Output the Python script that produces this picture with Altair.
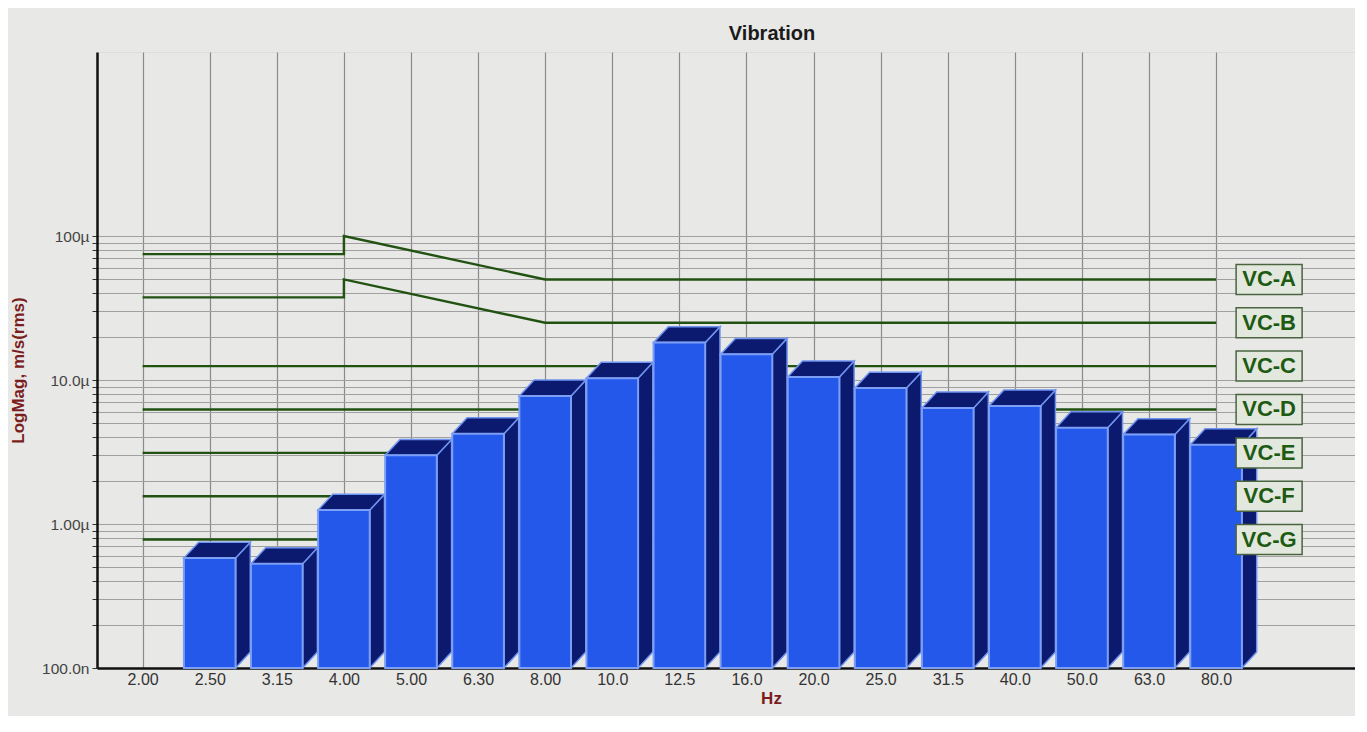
import altair as alt
import pandas as pd

# third-octave band labels along the x axis (index 0..16)
freq_labels = ["2.00", "2.50", "3.15", "4.00", "5.00", "6.30", "8.00", "10.0", "12.5",
               "16.0", "20.0", "25.0", "31.5", "40.0", "50.0", "63.0", "80.0"]

# measured band levels, m/s rms (one per band from 2.50 to 80.0)
bar_values = [0.58e-6, 0.53e-6, 1.25e-6, 3.0e-6, 4.24e-6, 7.76e-6, 10.3e-6, 18.2e-6,
              15.1e-6, 10.5e-6, 8.8e-6, 6.4e-6, 6.6e-6, 4.67e-6, 4.18e-6, 3.56e-6]

# vibration criteria curves
vc_names = ["VC-A", "VC-B", "VC-C", "VC-D", "VC-E", "VC-F", "VC-G"]
vc_idx = [[0, 3, 3, 6, 16], [0, 3, 3, 6, 16], [0, 16], [0, 16], [0, 16], [0, 16], [0, 16]]
vc_vals = [[75e-6, 75e-6, 100e-6, 50e-6, 50e-6],
           [37.5e-6, 37.5e-6, 50e-6, 25e-6, 25e-6],
           [12.5e-6, 12.5e-6], [6.25e-6, 6.25e-6], [3.12e-6, 3.12e-6],
           [1.56e-6, 1.56e-6], [0.78e-6, 0.78e-6]]

# y axis ticks / labels
y_ticks = [m * 10.0 ** e for e in (-7, -6, -5) for m in range(1, 10)] + [1e-4]
y_decades = [1e-7, 1e-6, 1e-5, 1e-4]
y_decade_labels = ["100.0n", "1.00\u00b5", "10.0\u00b5", "100\u00b5"]

BASE = 1e-7
HALF_W = 0.385   # half bar width, in band units
DX = 0.22        # 3d depth, band units
K = 1.29         # 3d depth, vertical factor on the log axis

# ---- data frames
vc_rows = []
for name, xs, vs in zip(vc_names, vc_idx, vc_vals):
    for i, (x, v) in enumerate(zip(xs, vs)):
        vc_rows.append({"name": name, "x": x, "lo": v, "seq": i})
vc_df = pd.DataFrame(vc_rows)
vc_end = pd.DataFrame({"name": vc_names, "x": [16] * 7, "lo": [v[-1] for v in vc_vals]})

front, top, side = [], [], []
for i, v in enumerate(bar_values):
    c = i + 1
    x0, x1 = c - HALF_W, c + HALF_W
    front.append({"bar": c, "x": x0, "x2": x1, "lo": BASE, "hi": v})
    top += [{"bar": c, "x": x0, "lo": v, "hi": v},
            {"bar": c, "x": x0 + DX, "lo": v, "hi": v * K},
            {"bar": c, "x": x1, "lo": v, "hi": v * K},
            {"bar": c, "x": x1 + DX, "lo": v * K, "hi": v * K}]
    side += [{"bar": c, "x": x1, "lo": BASE, "hi": v},
             {"bar": c, "x": x1 + DX, "lo": BASE * K, "hi": v * K}]
front_df = pd.DataFrame(front)
top_df = pd.DataFrame(top)
side_df = pd.DataFrame(side)

# ---- axes
x_label_expr = "[" + ",".join("'%s'" % s for s in freq_labels) + "][round(datum.value)]"
y_label_expr = ""
for v, s in zip(y_decades, y_decade_labels):
    y_label_expr += "abs(datum.value - %g) < %g ? '%s' : " % (v, v * 0.01, s)
y_label_expr += "''"

X_SCALE = alt.Scale(domain=[-0.68, 18.07], nice=False, zero=False)
Y_SCALE = alt.Scale(type="log", domain=[1e-7, 1.9e-3], nice=False)

x_axis = alt.Axis(values=list(range(17)), labelExpr=x_label_expr, title="Hz",
                  grid=True, gridColor="#8a8a8a", gridWidth=1.2,
                  domainColor="#111111", domainWidth=2.5, ticks=False,
                  labelFontSize=16, labelColor="#333333", labelPadding=3,
                  titleColor="#7b1d1d", titleFontSize=17, titleFontWeight="bold",
                  titleX=674, titleY=30, titleBaseline="middle")
y_axis = alt.Axis(values=y_ticks, labelExpr=y_label_expr, title="LogMag, m/s(rms)",
                  grid=True, gridColor="#a0a0a0", gridWidth=1,
                  domainColor="#111111", domainWidth=2.5,
                  tickSize=5, tickColor="#333333", labelOverlap=False,
                  labelFontSize=15.5, labelColor="#444444", labelPadding=3,
                  titleColor="#7b1d1d", titleFontSize=17, titleFontWeight="bold",
                  titleX=-79, titleY=318, titleAngle=270,
                  titleAlign="center", titleBaseline="middle")

xq = alt.X("x:Q", scale=X_SCALE, axis=x_axis)
yq = alt.Y("lo:Q", scale=Y_SCALE, axis=y_axis)

lines = alt.Chart(vc_df).mark_line(color="#225212", strokeWidth=2.4).encode(
    x=xq, y=yq, detail="name:N", order="seq:Q")

sides = alt.Chart(side_df).mark_area(
    orient="vertical", color="#0b1a6e", stroke="#6f93f0", strokeWidth=1.5
).encode(x=xq, y=yq, y2="hi:Q", detail="bar:N")

tops = alt.Chart(top_df).mark_area(
    orient="vertical", color="#0b1a6e", stroke="#6f93f0", strokeWidth=1.5
).encode(x=xq, y=yq, y2="hi:Q", detail="bar:N")

fronts = alt.Chart(front_df).mark_rect(
    color="#2458ea", stroke="#7c9ff5", strokeWidth=2
).encode(x=xq, x2="x2:Q", y=yq, y2="hi:Q")

boxes = alt.Chart(vc_end).mark_rect(
    fill="#e3e8de", stroke="#4a6440", strokeWidth=1.5,
    xOffset=20, x2Offset=86, yOffset=-15, y2Offset=15
).encode(x=xq, x2="x:Q", y=yq, y2="lo:Q")

texts = alt.Chart(vc_end).mark_text(
    font="Liberation Sans", fontSize=22, fontWeight="bold", color="#1d5a12",
    align="center", baseline="middle", dx=53
).encode(x=xq, y=yq, text="name:N")

chart = alt.layer(lines, sides, tops, fronts, boxes, texts).properties(
    width=1258, height=616,
    title=alt.TitleParams("Vibration", anchor="start", frame="group", align="center",
                          dx=675, fontSize=20, fontWeight="bold", color="#1a1a1a",
                          offset=8, font="Liberation Sans"),
    autosize=alt.AutoSizeParams(type="none"),
    padding={"left": 89, "top": 44, "right": 0, "bottom": 48},
    background="#e8e8e6",
).configure_view(strokeWidth=0).configure(font="Liberation Sans")

chart.save("out.html", embed_options={"renderer": "svg", "actions": False})
